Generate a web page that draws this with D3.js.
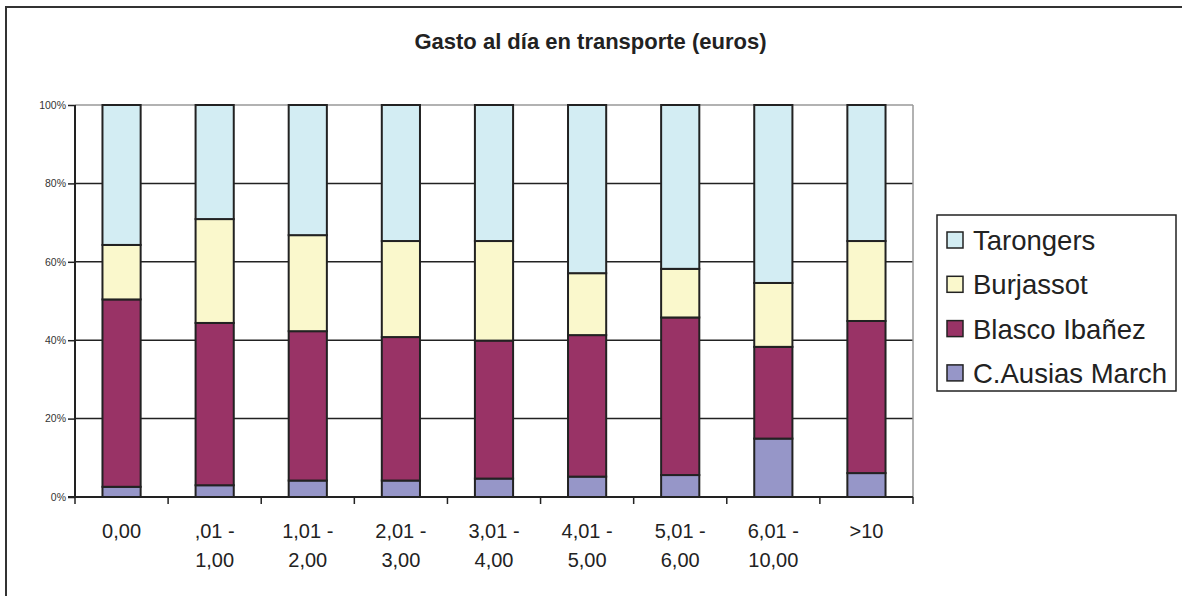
<!DOCTYPE html>
<html><head><meta charset="utf-8">
<script src="https://cdn.jsdelivr.net/npm/d3@7/dist/d3.min.js"></script>
<style>body{margin:0;background:#fff}svg{display:block}text{font-family:"Liberation Sans",Arial,sans-serif}</style>
</head><body>
<script>
const categories = ["0,00", ",01 - 1,00", "1,01 - 2,00", "2,01 - 3,00", "3,01 - 4,00", "4,01 - 5,00", "5,01 - 6,00", "6,01 - 10,00", ">10"];
const seriesNames = ["C.Ausias March", "Blasco Ibañez", "Burjassot", "Tarongers"];
const ausiasMarch = [2.6, 3.0, 4.2, 4.2, 4.7, 5.2, 5.6, 14.9, 6.1];
const blascoIbanez = [47.8, 41.4, 38.1, 36.6, 35.2, 36.1, 40.2, 23.4, 38.8];
const burjassot = [13.9, 26.5, 24.5, 24.5, 25.4, 15.8, 12.4, 16.3, 20.4];
const tarongers = [35.7, 29.1, 33.2, 34.7, 34.7, 42.9, 41.8, 45.4, 34.7];
const yTicks = [0, 20, 40, 60, 80, 100];
const colors = ["#9696C8", "#993366", "#FAF8CC", "#D3EDF3"];

const W = 1182, H = 596;
const svg = d3.select("body").append("svg").attr("width", W).attr("height", H);
svg.append("rect").attr("x", 6).attr("y", 7).attr("width", 1300).attr("height", 700)
  .attr("fill", "none").attr("stroke", "#333").attr("stroke-width", 2);

svg.append("text").attr("x", 590.5).attr("y", 48.5).attr("text-anchor", "middle")
  .attr("font-size", 22).attr("font-weight", "bold").attr("fill", "#222")
  .text("Gasto al día en transporte (euros)");

const L = 75, R = 913, T = 105, B = 497;
const x = d3.scaleBand().domain(categories).range([L, R]).paddingInner(0.59).paddingOuter(0.295);
const xb = d3.scaleBand().domain(categories).range([L, R]);
const y = d3.scaleLinear().domain([0, 100]).range([B, T]);

// gridlines
svg.append("g").selectAll("line").data(yTicks.filter(t => t > 0 && t < 100)).join("line")
  .attr("x1", L).attr("x2", R).attr("y1", d => y(d)).attr("y2", d => y(d))
  .attr("stroke", "#222").attr("stroke-width", 1.5);
svg.append("line").attr("x1", L).attr("x2", R).attr("y1", y(100)).attr("y2", y(100))
  .attr("stroke", "#999").attr("stroke-width", 1.5);
svg.append("line").attr("x1", R).attr("x2", R).attr("y1", T).attr("y2", B)
  .attr("stroke", "#999").attr("stroke-width", 1.5);

// stacked data
const seriesVals = [ausiasMarch, blascoIbanez, burjassot, tarongers];
const rows = categories.map((c, i) => {
  const o = {cat: c};
  seriesNames.forEach((s, j) => o[s] = seriesVals[j][i]);
  return o;
});
const stack = d3.stack().keys(seriesNames).offset(d3.stackOffsetExpand)(rows);
svg.append("g").selectAll("g").data(stack).join("g")
  .attr("fill", (d, i) => colors[i])
  .selectAll("rect").data(d => d).join("rect")
  .attr("x", d => x(d.data.cat)).attr("width", x.bandwidth())
  .attr("y", d => y(d[1] * 100)).attr("height", d => y(d[0] * 100) - y(d[1] * 100))
  .attr("stroke", "#222").attr("stroke-width", 2);

// y axis
const yAxis = d3.axisLeft(y).tickValues(yTicks).tickFormat(d => d + "%").tickSize(7).tickPadding(2);
const ga = svg.append("g").attr("transform", `translate(${L},0)`).call(yAxis);
ga.select(".domain").attr("stroke", "#222").attr("stroke-width", 2).attr("d", `M0,${T}V${B}`);
ga.selectAll(".tick line").attr("stroke", "#222").attr("stroke-width", 1.5);
ga.selectAll(".tick text").attr("font-size", 10.5).attr("fill", "#333").attr("font-family", "Liberation Sans, Arial, sans-serif");

// x axis
svg.append("line").attr("x1", L - 7).attr("x2", R).attr("y1", B).attr("y2", B)
  .attr("stroke", "#222").attr("stroke-width", 2);
const bounds = categories.map(c => xb(c)).concat([R]);
svg.append("g").selectAll("line").data(bounds).join("line")
  .attr("x1", d => d).attr("x2", d => d).attr("y1", B).attr("y2", B + 7)
  .attr("stroke", "#222").attr("stroke-width", 1.5);
const xl = svg.append("g").selectAll("text").data(categories).join("text")
  .attr("x", d => xb(d) + xb.bandwidth() / 2).attr("y", 538)
  .attr("text-anchor", "middle").attr("font-size", 20).attr("fill", "#222");
xl.each(function(d) {
  const parts = d.includes(" - ") ? [d.split(" - ")[0] + " -", d.split(" - ")[1]] : [d];
  const t = d3.select(this);
  parts.forEach((p, i) => t.append("tspan").attr("x", xb(d) + xb.bandwidth() / 2).attr("dy", i ? 28.5 : 0).text(p));
});

// legend
svg.append("rect").attr("x", 937).attr("y", 215).attr("width", 239).attr("height", 176)
  .attr("fill", "#fff").attr("stroke", "#222").attr("stroke-width", 1.5);
const legendOrder = [3, 2, 1, 0];
const lg = svg.append("g").selectAll("g").data(legendOrder).join("g")
  .attr("transform", (d, i) => `translate(947,${240 + i * 44.3})`);
lg.append("rect").attr("x", 0).attr("y", -8).attr("width", 16).attr("height", 16)
  .attr("fill", d => colors[d]).attr("stroke", "#222").attr("stroke-width", 1.5);
lg.append("text").attr("x", 26).attr("y", 10).attr("font-size", 27.5).attr("fill", "#222")
  .text(d => seriesNames[d]);
</script>
</body></html>
